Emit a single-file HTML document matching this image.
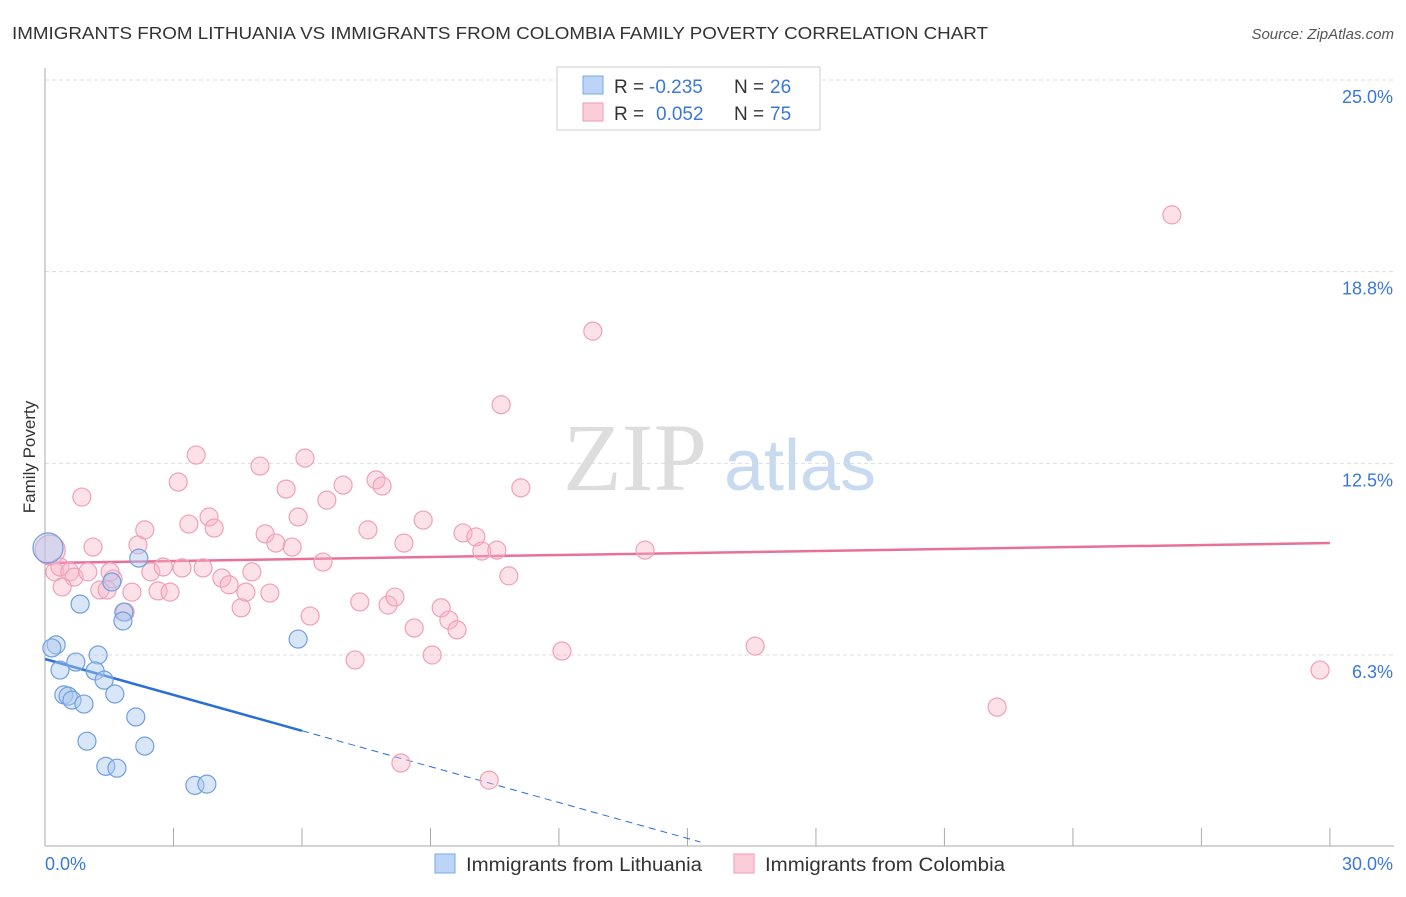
<!DOCTYPE html>
<html><head><meta charset="utf-8"><style>
body{margin:0;background:#fff;font-family:"Liberation Sans",sans-serif}
</style></head><body>
<svg id="c" width="1406" height="892" xmlns="http://www.w3.org/2000/svg" font-family="Liberation Sans, sans-serif">
<text x="12" y="39" font-size="17.5" fill="#333" textLength="976" lengthAdjust="spacingAndGlyphs">IMMIGRANTS FROM LITHUANIA VS IMMIGRANTS FROM COLOMBIA FAMILY POVERTY CORRELATION CHART</text>
<text x="1394" y="39" font-size="15" fill="#555" font-style="italic" text-anchor="end">Source: ZipAtlas.com</text>
<text x="35" y="457" font-size="17" fill="#333" text-anchor="middle" transform="rotate(-90 35 457)">Family Poverty</text>
<g><text x="635" y="490" font-size="96" fill="#ddd" font-family="Liberation Serif, serif" text-anchor="middle">ZIP</text><text x="800" y="490" font-size="72" fill="#c8daf0" text-anchor="middle">atlas</text></g>
<g id="grid"></g><g id="axes"></g><g id="lines"></g><g id="pts"></g>
<g>
<rect x="557" y="67" width="263" height="63" fill="#fff" stroke="#ccc"/>
<rect x="583" y="76" width="20" height="18" fill="#bcd4f5" stroke="#7aa7e6"/>
<rect x="583" y="103" width="20" height="18" fill="#fbcdd9" stroke="#f29ab3"/>
<text x="614" y="93" font-size="19" fill="#333">R =</text>
<text x="649" y="93" font-size="19" fill="#3a78d8">-0.235</text>
<text x="734" y="93" font-size="19" fill="#333">N =</text>
<text x="770" y="93" font-size="19" fill="#3a78d8">26</text>
<text x="614" y="120" font-size="19" fill="#333">R =</text>
<text x="656" y="120" font-size="19" fill="#3a78d8">0.052</text>
<text x="734" y="120" font-size="19" fill="#333">N =</text>
<text x="770" y="120" font-size="19" fill="#3a78d8">75</text>
</g>
<g>
<rect x="435" y="854" width="20" height="19" fill="#bcd4f5" stroke="#7aa7e6"/>
<text x="466" y="871" font-size="19" fill="#333" textLength="236" lengthAdjust="spacingAndGlyphs">Immigrants from Lithuania</text>
<rect x="734" y="854" width="20" height="19" fill="#fbcdd9" stroke="#f29ab3"/>
<text x="765" y="871" font-size="19" fill="#333" textLength="240" lengthAdjust="spacingAndGlyphs">Immigrants from Colombia</text>
</g>
</svg>
<script>
const blueX=[0.07,0.26,0.16,0.35,0.72,1.24,1.17,1.38,0.44,0.54,0.63,0.91,1.63,0.82,1.56,2.19,1.84,1.82,2.12,0.98,1.42,1.68,2.33,3.50,3.78,5.91];
const blueY=[9.74,6.58,6.48,5.76,6.02,6.25,5.73,5.43,4.95,4.91,4.78,4.65,4.98,7.91,8.63,9.41,7.65,7.36,4.23,3.44,2.62,2.56,3.28,2.00,2.04,6.77];
const pinkX=[0.12,0.23,0.35,0.58,0.68,0.40,1.00,1.12,0.86,1.28,1.45,1.59,1.52,1.87,2.03,2.17,2.33,2.47,2.64,2.76,2.92,3.11,3.20,3.36,3.53,3.69,3.83,3.95,4.13,4.30,4.58,4.69,4.83,5.02,5.14,5.25,5.39,5.63,5.77,5.91,6.07,6.19,6.49,6.58,6.96,7.24,7.35,7.54,7.73,7.87,8.01,8.17,8.31,8.38,8.62,8.83,9.04,9.25,9.43,9.62,9.76,10.06,10.20,10.37,10.55,10.65,10.83,11.11,12.07,12.79,14.01,16.58,22.23,26.31,29.77];
const pinkY=[9.67,8.96,9.12,8.96,8.79,8.47,8.96,9.77,11.40,8.37,8.37,8.73,8.96,7.65,8.30,9.84,10.33,8.96,8.34,9.12,8.30,11.89,9.09,10.52,12.77,9.09,10.75,10.39,8.76,8.54,7.79,8.30,8.96,12.41,10.20,8.27,9.90,11.66,9.77,10.75,12.67,7.52,9.28,11.30,11.79,6.09,7.98,10.33,11.96,11.76,7.88,8.14,2.73,9.90,7.13,10.65,6.25,7.79,7.39,7.07,10.23,10.10,9.64,2.17,9.67,14.41,8.83,11.70,6.38,16.81,9.67,6.54,4.55,20.60,5.76];
const yTicks=[25.0,18.8,12.5,6.3];
const yGrid=[25,18.75,12.5,6.25];
const blueFit=[6.12,-0.39]; // intercept, slope
const pinkFit=[9.25,0.0217];
const xs=v=>45+v*42.83, ys=v=>846.7-v*30.67;
const NS="http://www.w3.org/2000/svg";
function mk(t,a,p){const e=document.createElementNS(NS,t);for(const k in a)e.setAttribute(k,a[k]);p.appendChild(e);return e;}
const grid=document.getElementById('grid'),axes=document.getElementById('axes'),lines=document.getElementById('lines'),pts=document.getElementById('pts');
yGrid.forEach((g,i)=>{const l=mk('line',{x1:45,x2:1394,y1:ys(g),y2:ys(g),stroke:'#ddd','stroke-dasharray':'4 3'},grid);


const t=mk('text',{x:1393,y:ys(g)+23,'font-size':18,fill:'#3a78d8','text-anchor':'end'},axes);t.textContent=yTicks[i].toFixed(1)+'%';

});
const ya=mk('line',{x1:45,x2:45,y1:68,y2:846,stroke:'#aaa'},axes);


const xa=mk('line',{x1:45,x2:1394,y1:846,y2:846,stroke:'#aaa'},axes);


for(let i=0;i<=10;i++){const tk=mk('line',{x1:xs(i*3),x2:xs(i*3),y1:828,y2:846,stroke:'#aaa'},axes);

}
[['0.0%',45,'start'],['30.0%',1393,'end']].forEach(a=>{const t=mk('text',{x:a[1],y:870,'font-size':18,fill:'#3a78d8','text-anchor':a[2]},axes);t.textContent=a[0];

});
pinkX.forEach((x,i)=>{const c=mk('circle',{cx:xs(x),cy:ys(pinkY[i]),r:i==0?15:9,fill:'rgba(248,180,200,0.4)',stroke:'#f0a0b8','stroke-width':1.2},pts);

});
blueX.forEach((x,i)=>{const c=mk('circle',{cx:xs(x),cy:ys(blueY[i]),r:i==0?15:9,fill:'rgba(170,200,240,0.45)',stroke:'#6f9fe0','stroke-width':1.2},pts);

});
const bf=x=>blueFit[0]+blueFit[1]*x, pf=x=>pinkFit[0]+pinkFit[1]*x;
const l1=mk('line',{x1:xs(0),y1:ys(bf(0)),x2:xs(6),y2:ys(bf(6)),stroke:'#2a6fd6','stroke-width':2.5},lines);


const l2=mk('line',{x1:xs(6),y1:ys(bf(6)),x2:xs(15.3),y2:ys(bf(15.3)),stroke:'#2a6fd6','stroke-width':1,'stroke-dasharray':'7 5'},lines);


const l3=mk('line',{x1:xs(0),y1:ys(pf(0)),x2:xs(30),y2:ys(pf(30)),stroke:'#e8709a','stroke-width':2.5},lines);


</script>
</body></html>
